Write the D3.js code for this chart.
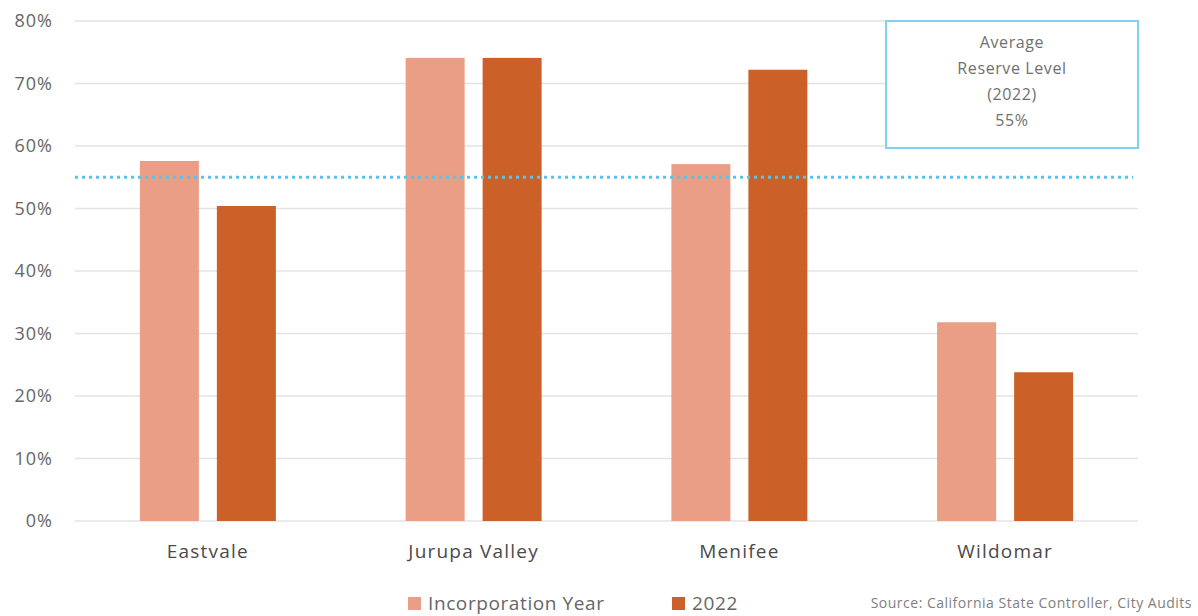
<!DOCTYPE html>
<html>
<head>
<meta charset="utf-8">
<script src="https://cdn.jsdelivr.net/npm/d3@7"></script>
<style>
  body { margin: 0; background: #fff; }
  text { font-family: "Open Sans", Lato, sans-serif; }
</style>
</head>
<body>
<svg id="chart" width="1198" height="616"></svg>
<script>
"use strict";

// === Data ===
let cities = ["Eastvale", "Jurupa Valley", "Menifee", "Wildomar"];
let seriesNames = ["Incorporation Year", "2022"];
let incorporationYear = [0.576, 0.741, 0.571, 0.318];
let year2022 = [0.504, 0.741, 0.722, 0.238];
let averageReserve = 0.55;
let yTicks = [0, 0.1, 0.2, 0.3, 0.4, 0.5, 0.6, 0.7, 0.8];
let boxLines = ["Average", "Reserve Level", "(2022)", "55%"];

let colors = ["#EA9E85", "#CB6128"];

let svg = d3.select("#chart");
let margin = { left: 75, right: 60, top: 21, bottom: 95 };
let width = 1198 - margin.left - margin.right;
let height = 616 - margin.top - margin.bottom;

let g = svg.append("g").attr("transform", `translate(${margin.left},${margin.top})`);

// === Scales ===
let x = d3.scaleBand().domain(cities).range([0, width]).paddingInner(0).paddingOuter(0);
let y = d3.scaleLinear().domain([0, 0.8]).range([height, 0]);
let barW = 59, gap = 18;

// gridlines
g.selectAll(".grid")
  .data(yTicks)
  .join("line")
  .attr("x1", 0)
  .attr("x2", width)
  .attr("y1", d => y(d))
  .attr("y2", d => y(d))
  .attr("stroke", "#e3e3e3")
  .attr("stroke-width", 1.5);

// y axis labels
let yAxis = g.append("g")
  .call(d3.axisLeft(y).tickValues(yTicks).tickFormat(d3.format(".0%")).tickSize(0).tickPadding(22));
yAxis.select(".domain").remove();
yAxis.selectAll("text")
  .attr("fill", "#666")
  .attr("font-size", 18)
  .attr("letter-spacing", 1)
  .style("font-family", "'Open Sans', sans-serif");

// === Bars ===
let series = [incorporationYear, year2022];
series.forEach((vals, si) => {
  g.selectAll(".bar" + si)
    .data(cities)
    .join("rect")
    .attr("x", (c) => x(c) + x.bandwidth() / 2 - (barW + gap / 2) + si * (barW + gap))
    .attr("y", (c, i) => y(vals[i]))
    .attr("width", barW)
    .attr("height", (c, i) => height - y(vals[i]))
    .attr("fill", colors[si]);
});

// x axis labels
let xAxis = g.append("g")
  .attr("transform", `translate(0,${height})`)
  .call(d3.axisBottom(x).tickSize(0).tickPadding(24));
xAxis.select(".domain").remove();
xAxis.selectAll("text")
  .attr("fill", "#4a4a4a")
  .attr("font-size", 19)
  .attr("letter-spacing", 1.2)
  .style("font-family", "'Open Sans', sans-serif");

// === Average line ===
g.append("line")
  .attr("x1", 0)
  .attr("x2", width - 5)
  .attr("y1", y(averageReserve))
  .attr("y2", y(averageReserve))
  .attr("stroke", "#5BC2EA")
  .attr("stroke-width", 3)
  .attr("stroke-dasharray", "3 4");

// === Annotation box ===
let bx = 886 - margin.left, bw = width - bx;
g.append("rect")
  .attr("x", bx)
  .attr("y", 0)
  .attr("width", bw)
  .attr("height", 127)
  .attr("fill", "#fff")
  .attr("stroke", "#7FD3F1")
  .attr("stroke-width", 2);
g.selectAll(".boxtxt")
  .data(boxLines)
  .join("text")
  .attr("x", bx + bw / 2)
  .attr("y", (d, i) => 27 + i * 26)
  .attr("text-anchor", "middle")
  .attr("font-size", 16)
  .attr("letter-spacing", 0.6)
  .attr("fill", "#707070")
  .text(d => d);

// === Legend ===
let legendX = [408, 672];
seriesNames.forEach((name, i) => {
  svg.append("rect")
    .attr("x", legendX[i])
    .attr("y", 597)
    .attr("width", 13)
    .attr("height", 13)
    .attr("fill", colors[i]);
  svg.append("text")
    .attr("x", legendX[i] + 20)
    .attr("y", 610)
    .attr("font-size", 19)
    .attr("letter-spacing", 0.6)
    .attr("fill", "#666")
    .text(name);
});

// === Source ===
svg.append("text")
  .attr("x", 1192)
  .attr("y", 608)
  .attr("text-anchor", "end")
  .attr("font-size", 14)
  .attr("letter-spacing", 0.5)
  .attr("fill", "#808080")
  .text("Source: California State Controller, City Audits");
</script>
</body>
</html>
